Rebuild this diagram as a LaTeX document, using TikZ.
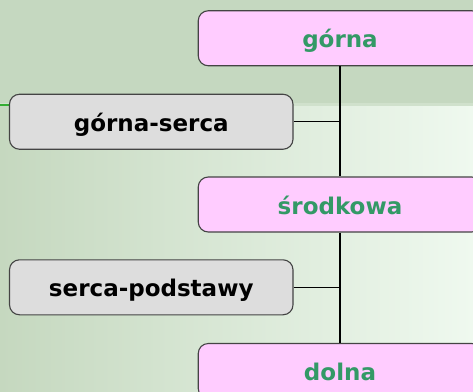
\documentclass[tikz,border=0pt]{standalone}
\usepackage{fontspec}
\setmainfont{DejaVu Sans}
\definecolor{bandgreen}{HTML}{C5D8C0}
\definecolor{stripgreen}{HTML}{D0E1CC}
\definecolor{leftgreen}{HTML}{C5D8BF}
\definecolor{midgreen}{HTML}{D9E8D5}
\definecolor{rightgreen}{HTML}{EFF9EF}
\definecolor{levelpink}{HTML}{FFCCFF}
\definecolor{levelgreen}{HTML}{339966}
\definecolor{partgray}{HTML}{DDDDDD}
\definecolor{edgegray}{HTML}{444444}
\begin{document}
\begin{tikzpicture}[x = 1pt, y = -1pt,
        box/.style = {draw = edgegray, line width = 1.1pt, rounded corners = 10pt,
            minimum width = 283.5pt, minimum height = 55pt, inner sep = 0pt,
            text height = 20pt, text depth = 1pt,
            font = \fontsize{23}{27}\selectfont\bfseries},
        level/.style = {box, fill = levelpink, text = levelgreen},
        part/.style = {box, fill = partgray, text = black},
        link/.style = {line width = 1.2pt, black}]
        \useasboundingbox (0,0) rectangle (473,391);
        \begin{scope}
        \clip (0,0) rectangle (473,391);
        \fill[bandgreen] (0,0) rectangle (473,105);
        \shade[left color = leftgreen, middle color = midgreen, right color = rightgreen] (0,105) rectangle (473,391);
        \fill[stripgreen] (0,103) rectangle (473,106);
        \draw[line width = 2pt, green!60!black!80] (0,105) -- (9,105);
        \node[level] (gorna) at (340,38.25) {górna};
        \node[part] (gornaserca) at (151.25,121.75) {górna-serca};
        \node[level] (srodkowa) at (340,204.5) {środkowa};
        \node[part] (sercapodstawy) at (151.25,287.3) {serca-podstawy};
        \node[level] (dolna) at (340,371) {dolna};
        \draw[link] (gorna.south) -- (srodkowa.north);
        \draw[link] (gornaserca.east) -- (gornaserca.east -| gorna.south);
        \draw[link] (srodkowa.south) -- (dolna.north);
        \draw[link] (sercapodstawy.east) -- (sercapodstawy.east -| srodkowa.south);
        \end{scope}
    \end{tikzpicture}
\end{document}
